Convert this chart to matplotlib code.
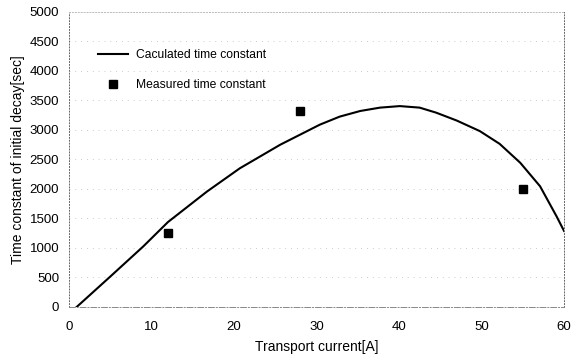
import matplotlib
matplotlib.use("Agg")
import matplotlib.pyplot as plt

plt.rcParams['font.family'] = ['Liberation Sans', 'DejaVu Sans']

# calculated curve
calc_current = [0.93, 5.0, 9.0, 12.0, 16.7, 20.7, 25.6, 28.0, 30.4, 32.8, 35.3, 37.7, 40.1,
                42.5, 44.5, 47.0, 49.8, 52.2, 54.7, 57.1, 59.1, 60.0]
calc_tau = [0, 515, 1026, 1440, 1954, 2350, 2750, 2920, 3090, 3226, 3322, 3379, 3405,
            3379, 3294, 3160, 2981, 2765, 2444, 2046, 1536, 1290]

# measured points
meas_current = [12, 28, 55]
meas_tau = [1250, 3330, 2000]

fig = plt.figure(figsize=(5.72, 3.58), dpi=100)
ax = fig.add_axes([0.1206, 0.1425, 0.8654, 0.824])

ax.plot(calc_current, calc_tau, color='black', lw=1.5, label='Caculated time constant')
ax.plot(meas_current, meas_tau, 's', color='black', ms=6, ls='none', label='Measured time constant')

ax.set_xlim(0, 60)
ax.set_ylim(0, 5000)
ax.set_xticks(range(0, 61, 10))
ax.set_yticks(range(0, 5001, 500))
ax.tick_params(length=0, labelsize=9.5)
ax.tick_params(axis='x', pad=10)
ax.tick_params(axis='y', pad=7)
ax.yaxis.grid(True, ls=(0, (1, 6)), color='#bbbbbb', lw=0.6)

for s in ax.spines.values():
    s.set_linestyle((0, (1, 2)))
    s.set_color('#666666')
    s.set_linewidth(0.7)
ax.spines['top'].set_color('#bbbbbb')
ax.spines['bottom'].set_linestyle((0, (6, 2, 1, 2)))
ax.spines['bottom'].set_color('#888888')

ax.set_xlabel('Transport current[A]', fontsize=10, labelpad=5)
ax.set_ylabel('Time constant of initial decay[sec]', fontsize=10, labelpad=3)

ax.legend(loc='upper left', bbox_to_anchor=(0.036, 0.912), frameon=False, fontsize=8.7,
          handlelength=2.5, labelspacing=1.5, handletextpad=0.7)

fig.savefig('out.png', dpi=100)
